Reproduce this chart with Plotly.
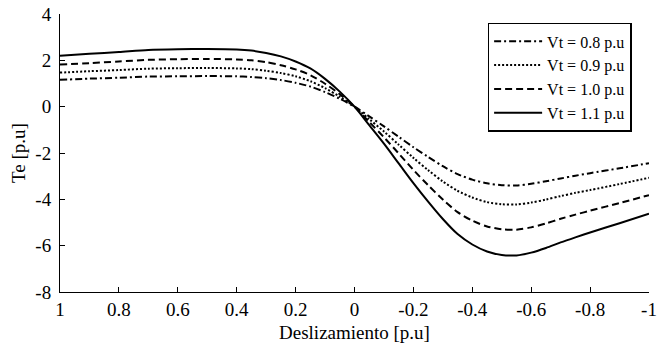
import plotly.graph_objects as go

slip = [1, 0.9, 0.8, 0.7, 0.6, 0.5, 0.4, 0.35, 0.3, 0.25, 0.2, 0.15, 0.1, 0.05, 0,
        -0.05, -0.1, -0.15, -0.2, -0.25, -0.3, -0.35, -0.4, -0.45, -0.5, -0.55,
        -0.6, -0.65, -0.7, -0.75, -0.8, -0.9, -1]

te_08 = [1.16, 1.21, 1.25, 1.30, 1.31, 1.32, 1.31, 1.28, 1.23, 1.15, 1.03, 0.87, 0.63, 0.34, 0,
         -0.42, -0.85, -1.30, -1.75, -2.17, -2.57, -2.91, -3.15, -3.31, -3.39, -3.40,
         -3.33, -3.22, -3.10, -2.98, -2.87, -2.66, -2.44]
te_09 = [1.47, 1.53, 1.58, 1.64, 1.66, 1.67, 1.65, 1.62, 1.55, 1.45, 1.31, 1.10, 0.80, 0.43, 0,
         -0.54, -1.07, -1.64, -2.21, -2.74, -3.23, -3.63, -3.92, -4.12, -4.21, -4.22,
         -4.14, -4.01, -3.86, -3.72, -3.60, -3.34, -3.07]
te_10 = [1.82, 1.88, 1.95, 2.02, 2.05, 2.06, 2.04, 2.00, 1.92, 1.79, 1.61, 1.36, 0.99, 0.54, 0,
         -0.66, -1.32, -2.02, -2.73, -3.39, -4.01, -4.55, -4.92, -5.17, -5.29, -5.31,
         -5.21, -5.04, -4.84, -4.66, -4.49, -4.16, -3.82]
te_11 = [2.20, 2.28, 2.36, 2.45, 2.48, 2.49, 2.47, 2.42, 2.32, 2.17, 1.95, 1.65, 1.20, 0.65, 0,
         -0.80, -1.60, -2.45, -3.30, -4.10, -4.85, -5.50, -5.95, -6.25, -6.40, -6.42,
         -6.30, -6.10, -5.86, -5.64, -5.43, -5.03, -4.62]

names = ["Vt = 0.8 p.u", "Vt = 0.9 p.u", "Vt = 1.0 p.u", "Vt = 1.1 p.u"]
dashes = ["7px,3px,2px,3px", "2px,2px", "7px,4px", "solid"]

x_ticks = [1, 0.8, 0.6, 0.4, 0.2, 0, -0.2, -0.4, -0.6, -0.8, -1]
x_ticktext = ["1", "0.8", "0.6", "0.4", "0.2", "0", "-0.2", "-0.4", "-0.6", "-0.8", "-1"]
y_ticks = [-8, -6, -4, -2, 0, 2, 4]
y_ticktext = ["-8", "-6", "-4", "-2", "0", "2", "4"]

FONT = "Liberation Serif"

fig = go.Figure()
for name, ys, d in zip(names, [te_08, te_09, te_10, te_11], dashes):
    fig.add_trace(go.Scatter(x=slip, y=ys, mode="lines", name=name,
                             line=dict(color="black", width=2, dash=d, shape="spline", smoothing=0.8)))

fig.update_layout(
    width=659, height=345,
    margin=dict(l=60, r=2, t=14, b=53),
    paper_bgcolor="white", plot_bgcolor="white",
    font=dict(family=FONT, size=19, color="black"),
    showlegend=True,
    legend=dict(x=0.726, y=0.968, xanchor="left", yanchor="top",
                bordercolor="black", borderwidth=1.5, bgcolor="white",
                font=dict(family=FONT, size=16, color="black"),
                itemwidth=48, tracegroupgap=0),
    xaxis=dict(range=[1, -1], tickvals=x_ticks, ticktext=x_ticktext,
               showline=True, linecolor="black", linewidth=1, mirror=False,
               ticks="inside", ticklen=5, tickcolor="black", showgrid=False, zeroline=False,
               ticklabeloverflow="allow", tickfont=dict(size=19),
               title=dict(text="Deslizamiento [p.u]", standoff=6, font=dict(size=19))),
    yaxis=dict(range=[-8, 4], tickvals=y_ticks, ticktext=y_ticktext,
               showline=True, linecolor="black", linewidth=1, mirror=False,
               ticks="inside", ticklen=5, tickcolor="black", showgrid=False, zeroline=False,
               ticklabelstandoff=4, tickfont=dict(size=19),
               title=dict(text="Te [p.u]", standoff=4, font=dict(size=19))),
)

fig.write_html("out.html")
